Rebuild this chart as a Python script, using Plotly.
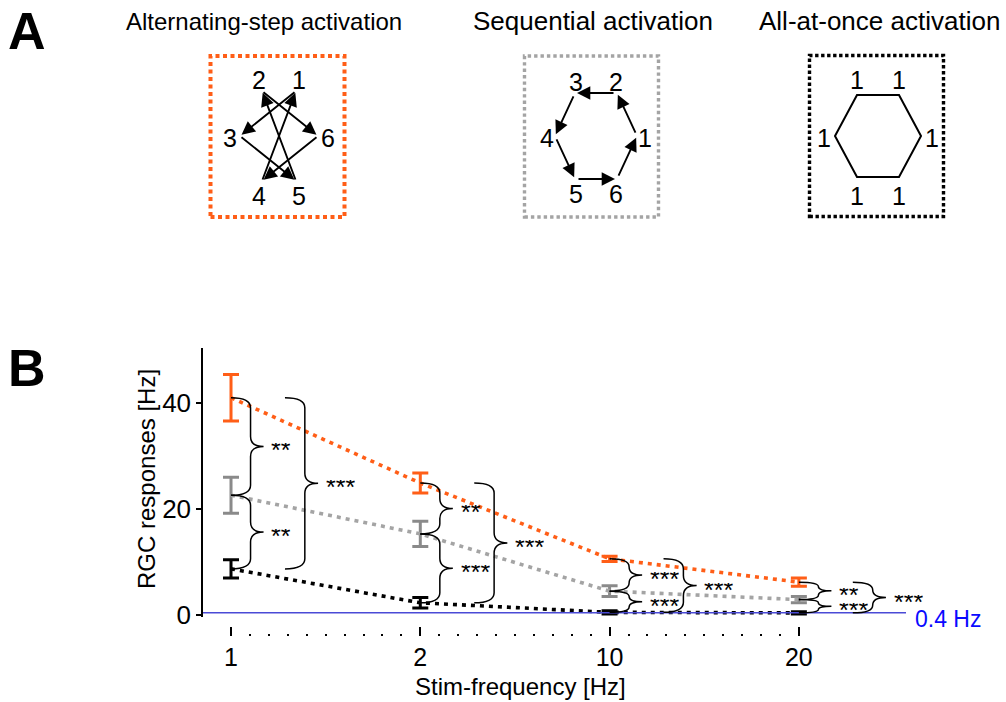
import math
import numpy as np
import plotly.graph_objects as go

# ---------------- data ----------------
freq_labels = ["1", "2", "10", "20"]           # stimulation frequency [Hz]
alt_mean = [41.0, 24.9, 10.6, 6.2]             # alternating-step activation
alt_err = [4.4, 1.9, 0.5, 0.8]
seq_mean = [22.6, 15.3, 4.5, 2.9]              # sequential activation
seq_err = [3.4, 2.4, 1.0, 0.6]
all_mean = [8.7, 2.3, 0.5, 0.4]                # all-at-once activation
all_err = [1.7, 1.0, 0.3, 0.2]
baseline_hz = 0.4                              # spontaneous rate
sig_alt_seq = ["**", "**", "***", "**"]
sig_seq_all = ["**", "***", "***", "***"]
sig_alt_all = ["***", "***", "***", "***"]

panel_titles = ["Alternating-step activation", "Sequential activation", "All-at-once activation"]
alt_labels = ["6", "1", "2", "3", "4", "5"]    # hexagon vertex labels (right, top-right, ... ccw)
alt_order = [1, 3, 5, 2, 6, 4, 1]              # firing order, alternating steps
seq_labels = ["1", "2", "3", "4", "5", "6"]
all_labels = ["1", "1", "1", "1", "1", "1"]

# ---------------- styling ----------------
W, H = 1006, 702
FONT = "Liberation Sans, Arial, sans-serif"
ORANGE = "#ff5e17"
GRAY_LINE = "#a4a4a4"
GRAY_BAR = "#8a8a8a"
BLACK = "#000000"
BLUE_LINE = "#4a4ad6"
BLUE_TEXT = "#0a0aff"

def px(x):
    return x / W

def py(y):
    return 1 - y / H

x_pos = list(range(len(freq_labels)))
x_range = [-0.148, 3.566]
y_range = [-0.38, 50.38]

fig = go.Figure()

series = [
    (alt_mean, alt_err, ORANGE, ORANGE),
    (seq_mean, seq_err, GRAY_LINE, GRAY_BAR),
    (all_mean, all_err, BLACK, BLACK),
]
for mean, err, lc, ec in series:
    fig.add_trace(go.Scatter(
        x=x_pos, y=mean, mode="lines",
        line=dict(color=lc, width=3.6, dash="4px,5px"),
        error_y=dict(type="data", array=err, color=ec, thickness=3, width=8),
        hoverinfo="skip", showlegend=False,
    ))

shapes = []
annotations = []

# baseline
shapes.append(dict(type="line", xref="x domain", yref="y", x0=0, x1=1,
                   y0=baseline_hz, y1=baseline_hz, line=dict(color=BLUE_LINE, width=1.5)))
annotations.append(dict(xref="paper", yref="y", x=px(913), y=baseline_hz, xanchor="left",
                        yanchor="middle", yshift=-6, height=18, text=f"{baseline_hz} Hz",
                        showarrow=False, font=dict(family=FONT, size=23, color=BLUE_TEXT)))

# significance braces
def brace_path(x0, w, y_top, y_bot, r_max=1.9):
    r = min(r_max, (y_top - y_bot) / 4)
    xs = x0 + 0.6 * w
    xt = x0 + w
    ym = (y_top + y_bot) / 2
    return (f"M {x0},{y_top} Q {xs},{y_top} {xs},{y_top - r} L {xs},{ym + r} "
            f"Q {xs},{ym} {xt},{ym} Q {xs},{ym} {xs},{ym - r} "
            f"L {xs},{y_bot + r} Q {xs},{y_bot} {x0},{y_bot}")

def add_brace(x0, w, y_top, y_bot, label):
    shapes.append(dict(type="path", xref="x", yref="y", path=brace_path(x0, w, y_top, y_bot),
                       line=dict(color=BLACK, width=1.5)))
    annotations.append(dict(xref="x", yref="y", x=x0 + w + 0.03, y=(y_top + y_bot) / 2,
                            xanchor="left", yanchor="middle", yshift=-4, height=14,
                            text=label, showarrow=False,
                            font=dict(family=FONT, size=25, color=BLACK)))

small_w = 0.172
big_off = 0.285
big_w = 0.175
for i, c in enumerate(x_pos):
    add_brace(c, small_w, alt_mean[i], seq_mean[i], sig_alt_seq[i])
    add_brace(c, small_w, seq_mean[i], all_mean[i], sig_seq_all[i])
    add_brace(c + big_off, big_w, alt_mean[i], all_mean[i], sig_alt_all[i])

# dotted minor marks between the frequencies
minor_vals = [round(v, 2) for v in np.arange(0.1, x_pos[-1], 0.1) if abs(v - round(v)) > 1e-6]

# ---------------- panel A: stimulation schematics ----------------
box_centers = [(277.5, 136.5), (591.5, 136.5), (876.5, 136.0)]
box_w, box_h = 134, 161
box_styles = [(ORANGE, 4, "4px,3.5px"), (GRAY_LINE, 3.4, "3.4px,3px"), (BLACK, 3.4, "3.4px,2.6px")]
title_centers = [264, 593, 879]
title_sizes = [24, 26, 26]

for (cx, cy), (col, lw, dash), tx, ts, title in zip(box_centers, box_styles, title_centers,
                                                     title_sizes, panel_titles):
    shapes.append(dict(type="rect", xref="paper", yref="paper",
                       x0=px(cx - box_w / 2), x1=px(cx + box_w / 2),
                       y0=py(cy + box_h / 2), y1=py(cy - box_h / 2),
                       line=dict(color=col, width=lw, dash=dash)))
    annotations.append(dict(xref="paper", yref="paper", x=px(tx), y=py(21), text=title,
                            showarrow=False, xanchor="center", yanchor="middle",
                            font=dict(family=FONT, size=ts, color=BLACK)))

def hexagon(cx, cy, dx_top, h, dx_mid):
    # vertices: right, top-right, top-left, left, bottom-left, bottom-right
    return [(cx + dx_mid, cy), (cx + dx_top, cy - h), (cx - dx_top, cy - h),
            (cx - dx_mid, cy), (cx - dx_top, cy + h), (cx + dx_top, cy + h)]

def add_labels(points, labels, dy=2):
    for (x, y), t in zip(points, labels):
        annotations.append(dict(xref="paper", yref="paper", x=px(x), y=py(y + dy), text=t,
                                showarrow=False, xanchor="center", yanchor="middle",
                                font=dict(family=FONT, size=25, color=BLACK)))

def add_arrow(p_from, p_to, shrink_tail=2, shrink_head=3):
    (x0, y0), (x1, y1) = p_from, p_to
    d = math.hypot(x1 - x0, y1 - y0)
    ux, uy = (x1 - x0) / d, (y1 - y0) / d
    tx, ty = x0 + ux * shrink_tail, y0 + uy * shrink_tail
    hx, hy = x1 - ux * shrink_head, y1 - uy * shrink_head
    annotations.append(dict(xref="paper", yref="paper", x=px(hx), y=py(hy),
                            ax=tx - hx, ay=ty - hy, axref="pixel", ayref="pixel",
                            text="", showarrow=True, arrowhead=2, arrowsize=1.4,
                            arrowwidth=1.9, arrowcolor=BLACK, standoff=0, startstandoff=0))

# alternating-step
acx, acy = 279, 136
alt_v = hexagon(acx, acy, 17, 45, 39)
alt_lab = hexagon(acx, acy, 20, 58, 49)
add_labels(alt_lab, alt_labels)
vert_of = {lab: alt_v[k] for k, lab in enumerate(alt_labels)}
for a, b in zip(alt_order[:-1], alt_order[1:]):
    add_arrow(vert_of[str(a)], vert_of[str(b)], shrink_tail=0, shrink_head=2)

# sequential
scx, scy = 596, 136
seq_v = hexagon(scx, scy, 21, 43, 41)
seq_lab = hexagon(scx, scy, 20, 56, 49)
add_labels(seq_lab, seq_labels)
for k in range(6):
    add_arrow(seq_v[k], seq_v[(k + 1) % 6], shrink_tail=2, shrink_head=2)

# all-at-once
ocx, ocy = 878, 136
all_v = hexagon(ocx, ocy, 21, 41, 43)
all_lab = hexagon(ocx, ocy, 21, 58, 54)
add_labels(all_lab, all_labels)
path = "M " + " L ".join(f"{px(x)},{py(y)}" for x, y in all_v) + " Z"
shapes.append(dict(type="path", xref="paper", yref="paper", path=path,
                   line=dict(color=BLACK, width=2)))

# panel letters and axis titles
for letter, (lx, ly) in zip(["A", "B"], [(27, 31), (27, 368)]):
    annotations.append(dict(xref="paper", yref="paper", x=px(lx), y=py(ly), text=f"<b>{letter}</b>",
                            showarrow=False, xanchor="center", yanchor="middle",
                            font=dict(family=FONT, size=52, color=BLACK)))
annotations.append(dict(xref="paper", yref="paper", x=px(146), y=py(479), text="RGC responses [Hz]",
                        textangle=-90, showarrow=False, xanchor="center", yanchor="middle",
                        font=dict(family=FONT, size=24, color=BLACK)))
annotations.append(dict(xref="paper", yref="paper", x=px(520), y=py(686), text="Stim-frequency [Hz]",
                        showarrow=False, xanchor="center", yanchor="middle",
                        font=dict(family=FONT, size=24, color=BLACK)))

fig.update_layout(
    width=W, height=H, margin=dict(l=0, r=0, t=0, b=0, pad=0, autoexpand=False),
    paper_bgcolor="white", plot_bgcolor="white", showlegend=False,
    font=dict(family=FONT, color=BLACK),
    xaxis=dict(domain=[px(203), px(906)], range=x_range, tickvals=x_pos, ticktext=freq_labels,
               ticks="inside", ticklen=9, tickwidth=1.5, tickcolor=BLACK,
               showline=False, showgrid=False, zeroline=False, automargin=False,
               anchor="free", position=py(636), ticklabelstandoff=4,
               tickfont=dict(family=FONT, size=25, color=BLACK),
               minor=dict(tickmode="array", tickvals=minor_vals, ticks="inside",
                          ticklen=2, tickwidth=2, tickcolor=BLACK, showgrid=False)),
    yaxis=dict(domain=[py(617), py(348)], range=y_range, tickvals=[0, 20, 40],
               ticks="outside", ticklen=5, tickwidth=1.5, tickcolor=BLACK,
               showline=True, linewidth=1.5, linecolor=BLACK, automargin=False,
               showgrid=False, zeroline=False,
               tickfont=dict(family=FONT, size=26, color=BLACK)),
    shapes=shapes, annotations=annotations,
)

fig.write_html("out.html")
